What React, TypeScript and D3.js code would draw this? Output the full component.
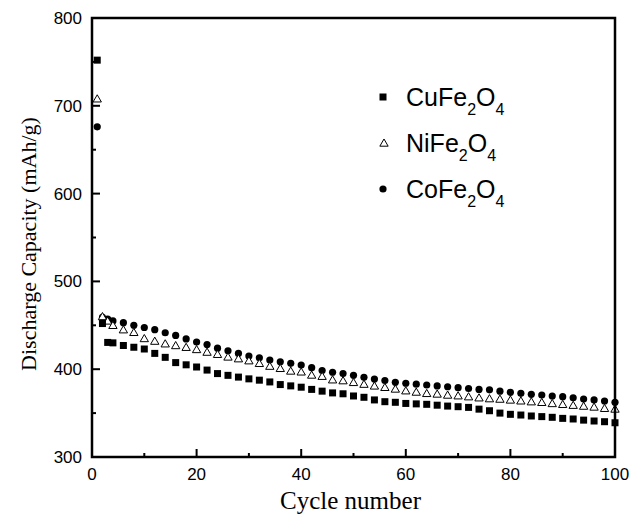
import React, { useRef, useEffect } from "react";
import * as d3 from "d3";

// cycle numbers of the plotted points (first four cycles, then every 2nd)
const cycles = [
  1, 2, 3, 4, 6, 8, 10, 12, 14, 16, 18, 20, 22, 24, 26, 28, 30, 32, 34, 36, 38, 40,
  42, 44, 46, 48, 50, 52, 54, 56, 58, 60, 62, 64, 66, 68, 70, 72, 74, 76, 78, 80,
  82, 84, 86, 88, 90, 92, 94, 96, 98, 100,
];

// discharge capacity, mAh/g
const cuFe2O4 = [
  752, 452, 430.5, 430, 427, 425, 423, 418, 413.5, 407.5, 405, 402.5, 399, 395, 393,
  391, 389, 387.5, 385.5, 382.5, 381, 379.5, 377, 375, 373, 372, 369.5, 368, 365, 363,
  362.3, 361, 360.5, 360, 359, 358, 357.3, 356.5, 354.5, 352.7, 350, 348.6, 347.8,
  346.7, 346, 345.2, 344, 343.3, 342, 341, 340.2, 339,
];
const niFe2O4 = [
  708, 460, 455, 450, 445, 442, 435, 432, 429, 427, 425, 422.5, 419.5, 417, 414, 412,
  409.7, 406.7, 403.5, 401, 398, 397, 393.4, 392, 388, 387, 385, 383, 381, 379.4,
  377.5, 375.5, 374, 372.5, 371.8, 370.6, 369.8, 368.7, 367.5, 366.5, 366, 365, 364,
  363, 362.3, 361, 360, 359, 358, 357, 355.5, 354.7,
];
const coFe2O4 = [
  676, 459, 457, 455, 453, 450, 447.5, 445, 441.5, 438.5, 434.5, 431, 428, 424, 421,
  418, 415, 413, 410.5, 408.5, 406.7, 404.8, 401.7, 398.5, 396.5, 395, 393, 390.8,
  388.8, 387, 385, 384, 383, 382, 381, 380, 379, 378, 377, 376.5, 375, 373.7, 372.5,
  371.4, 370.6, 369.5, 368.7, 367.5, 366, 365, 363.8, 362.3,
];

const xTicks = [0, 20, 40, 60, 80, 100];
const xMinorTicks = [10, 30, 50, 70, 90];
const yTicks = [300, 400, 500, 600, 700, 800];
const yMinorTicks = [350, 450, 550, 650, 750];

const legendNames = [
  ["CuFe", "2", "O", "4"],
  ["NiFe", "2", "O", "4"],
  ["CoFe", "2", "O", "4"],
];

const SANS = "'Liberation Sans', Arial, Helvetica, sans-serif";
const SERIF = "'Liberation Serif', 'Times New Roman', serif";

const App = () => {
  const svgRef = useRef<SVGSVGElement>(null);

  useEffect(() => {
    const W = 632;
    const H = 515;
    const svg = d3.select(svgRef.current);
    svg.attr("width", W).attr("height", H).style("background", "#fff");
    svg.selectAll("*").remove();

    const left = 92, right = 615, top = 18, bottom = 457;

    const x = d3.scaleLinear().domain([0, 100]).range([left, right]);
    const y = d3.scaleLinear().domain([300, 800]).range([bottom, top]);

    const plot = svg.append("g");

    // markers
    const sq = 7;
    plot.append("g")
      .selectAll("circle")
      .data(cycles.map((c, i) => [c, coFe2O4[i]]))
      .enter()
      .append("circle")
      .attr("cx", (d) => x(d[0]))
      .attr("cy", (d) => y(d[1]))
      .attr("r", 3.6)
      .attr("fill", "#000");

    const tri = d3.symbol().type(d3.symbolTriangle).size(30);
    plot.append("g")
      .selectAll("path")
      .data(cycles.map((c, i) => [c, niFe2O4[i]]))
      .enter()
      .append("path")
      .attr("d", tri)
      .attr("transform", (d) => `translate(${x(d[0])},${y(d[1]) + 0.8})`)
      .attr("fill", "#fff")
      .attr("stroke", "#000")
      .attr("stroke-width", 1);

    plot.append("g")
      .selectAll("rect")
      .data(cycles.map((c, i) => [c, cuFe2O4[i]]))
      .enter()
      .append("rect")
      .attr("x", (d) => x(d[0]) - sq / 2)
      .attr("y", (d) => y(d[1]) - sq / 2)
      .attr("width", sq)
      .attr("height", sq)
      .attr("fill", "#000");

    // frame
    svg.append("rect")
      .attr("x", left)
      .attr("y", top)
      .attr("width", right - left)
      .attr("height", bottom - top)
      .attr("fill", "none")
      .attr("stroke", "#000")
      .attr("stroke-width", 2.5);

    // ticks, pointing inwards
    const tk = svg.append("g").attr("stroke", "#000").attr("stroke-width", 2);
    xTicks.forEach((t) =>
      tk.append("line").attr("x1", x(t)).attr("x2", x(t)).attr("y1", bottom).attr("y2", bottom - 8)
    );
    xMinorTicks.forEach((t) =>
      tk.append("line").attr("x1", x(t)).attr("x2", x(t)).attr("y1", bottom).attr("y2", bottom - 4)
    );
    yTicks.forEach((t) =>
      tk.append("line").attr("x1", left).attr("x2", left + 8).attr("y1", y(t)).attr("y2", y(t))
    );
    yMinorTicks.forEach((t) =>
      tk.append("line").attr("x1", left).attr("x2", left + 4).attr("y1", y(t)).attr("y2", y(t))
    );

    // tick labels
    svg.append("g")
      .selectAll("text")
      .data(xTicks)
      .enter()
      .append("text")
      .attr("x", (d) => x(d))
      .attr("y", bottom + 23)
      .attr("text-anchor", "middle")
      .attr("font-family", SANS)
      .attr("font-size", 17)
      .text((d) => d);

    svg.append("g")
      .selectAll("text")
      .data(yTicks)
      .enter()
      .append("text")
      .attr("x", left - 10)
      .attr("y", (d) => y(d) + 6)
      .attr("text-anchor", "end")
      .attr("font-family", SANS)
      .attr("font-size", 17)
      .text((d) => d);

    // axis titles
    svg.append("text")
      .attr("x", (left + right) / 2 - 3)
      .attr("y", 509)
      .attr("text-anchor", "middle")
      .attr("font-family", SERIF)
      .attr("font-size", 25)
      .text("Cycle number");

    svg.append("text")
      .attr("transform", "rotate(-90)")
      .attr("x", -244)
      .attr("y", 36)
      .attr("text-anchor", "middle")
      .attr("font-family", SERIF)
      .attr("font-size", 22)
      .text("Discharge Capacity (mAh/g)");

    // legend
    const lg = svg.append("g");
    const rowY = [97, 143, 189];
    lg.append("rect").attr("x", 383 - sq / 2).attr("y", rowY[0] - sq / 2).attr("width", sq).attr("height", sq).attr("fill", "#000");
    lg.append("path").attr("d", tri).attr("transform", `translate(384,${rowY[1] + 0.8})`).attr("fill", "#fff").attr("stroke", "#000");
    lg.append("circle").attr("cx", 383).attr("cy", rowY[2]).attr("r", 3.6).attr("fill", "#000");

    legendNames.forEach((parts, i) => {
      const t = lg.append("text")
        .attr("x", 406)
        .attr("y", rowY[i] + 9)
        .attr("font-family", SANS)
        .attr("font-size", 25);
      t.append("tspan").text(parts[0]);
      t.append("tspan").attr("font-size", 16).attr("dy", 9).text(parts[1]);
      t.append("tspan").attr("dy", -9).text(parts[2]);
      t.append("tspan").attr("font-size", 16).attr("dy", 9).text(parts[3]);
    });
  }, []);

  return (
    <svg ref={svgRef} style={{ position: "absolute", left: 0, top: 0, display: "block" }}></svg>
  );
};

export default App;
